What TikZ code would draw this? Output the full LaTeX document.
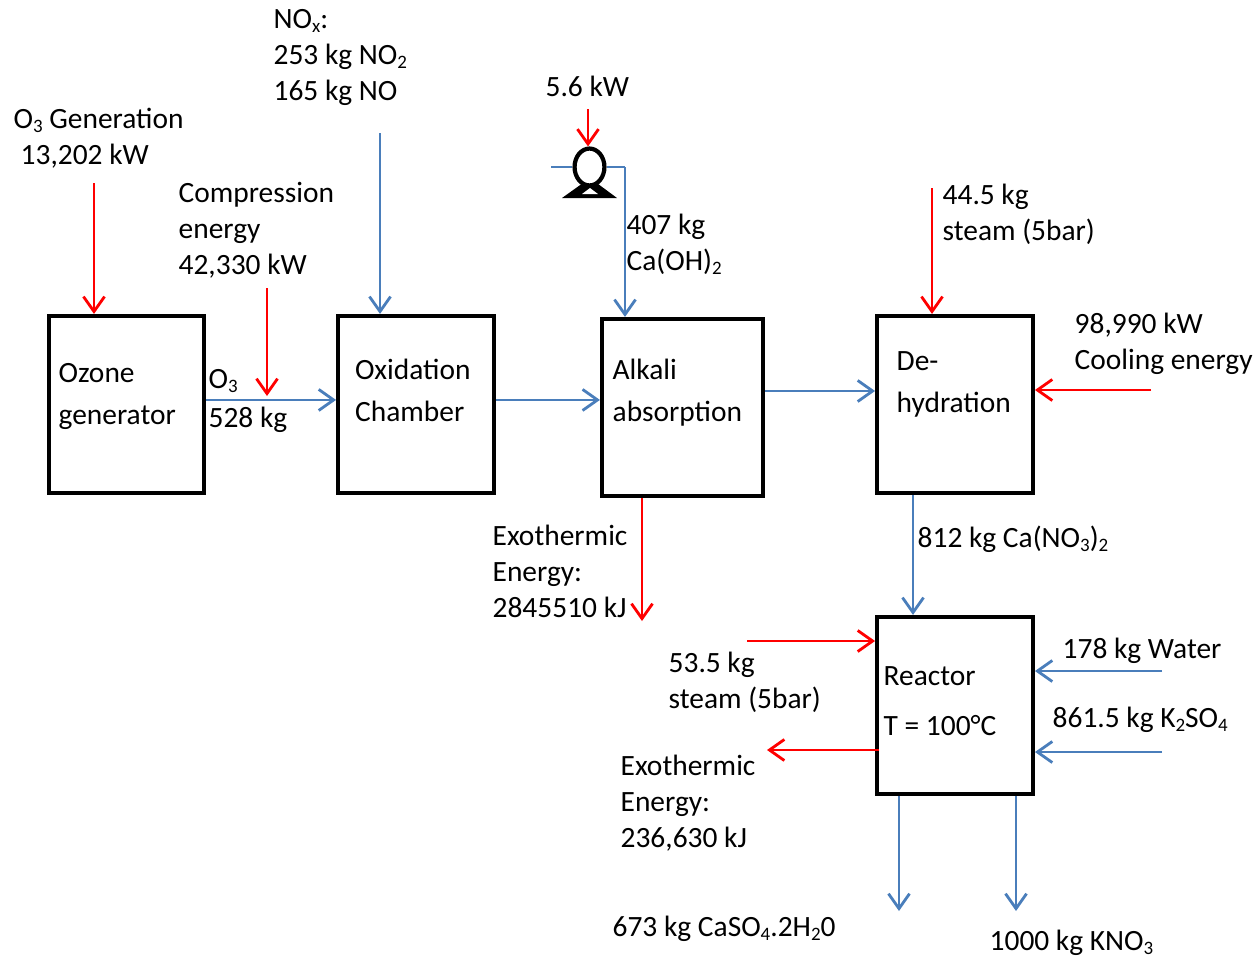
\documentclass[tikz,border=0pt]{standalone}
\usepackage{fontspec}
\setmainfont{Carlito}
\usetikzlibrary{arrows.meta,shapes.geometric}
\newcommand{\sub}[1]{\raisebox{-2.3pt}{\fontsize{10.8}{10}\selectfont #1}}
\definecolor{flowblue}{RGB}{74,126,187}
\tikzset{
    procbox/.style={draw, line width=2.5pt, minimum width=88.5pt, minimum height=100.6pt, inner sep=0pt},
    lbl/.style={anchor=north west, inner sep=0pt, align=left, yshift=-5.1pt, xshift=-0.4pt, font=\fontsize{16.75}{20.4}\selectfont},
    blueflow/.style={draw=flowblue, line width=1.6pt, -{Straight Barb[length=8.5pt, width=12pt, line width=1.6pt]}},
    redflow/.style={draw=red, line width=1.6pt, -{Straight Barb[length=8.5pt, width=12pt, line width=1.6pt]}},
}
\begin{document}
\begin{tikzpicture}[x=0.02cm, y=-0.02cm]
        \useasboundingbox (0,0) rectangle (1257,958);

        \node[procbox] (ozone) at (126.5,404.5) {};
        \node[procbox] (oxid) at (416,404.5) {};
        \node[procbox, minimum width=91.5pt] (alkali) at (682.5,407.5) {};
        \node[procbox] (dehyd) at (955,404.5) {};
        \node[procbox] (reactor) at (955,705.5) {};

        \node[lbl] (ozonetxt) at (59,354) {Ozone\\[3.6pt]generator};
        \node[lbl] (oxidtxt) at (355.5,349.5) {Oxidation\\[3.4pt]Chamber};
        \node[lbl] (alkalitxt) at (613,349.5) {Alkali\\[3.4pt]absorption};
        \node[lbl] (dehydtxt) at (897,342) {De-\\[3.4pt]hydration};
        \node[lbl] (reactortxt) at (884,657) {Reactor\\[8.4pt]T = 100°C};

        \node[lbl] (o3gentxt) at (14,99) {O\sub{3} Generation\\\hspace*{4pt}13,202 kW};
        \node[lbl] (noxtxt) at (274,0) {NO\sub{x}:\\253 kg NO\sub{2}\\165 kg NO};
        \node[lbl] (comptxt) at (179,173) {Compression\\energy\\42,330 kW};
        \node[lbl] (o3txt) at (209,360) {O\sub{3}};
        \node[lbl] (o3masstxt) at (209,398) {528 kg};
        \node[lbl] (pumptxt) at (546,67) {5.6 kW};
        \node[lbl] (limetxt) at (627,205) {407 kg\\Ca(OH)\sub{2}};
        \node[lbl] (steamatxt) at (943,175) {44.5 kg\\steam (5bar)};
        \node[lbl] (cooltxt) at (1075,304) {98,990 kW\\Cooling energy};
        \node[lbl] (exoatxt) at (493,516) {Exothermic\\Energy:\\2845510 kJ};
        \node[lbl] (nitratetxt) at (918,517) {812 kg Ca(NO\sub{3})\sub{2}};
        \node[lbl] (steambtxt) at (669,643) {53.5 kg\\steam (5bar)};
        \node[lbl] (watertxt) at (1063,629) {178 kg Water};
        \node[lbl] (sulfatetxt) at (1053,698) {861.5 kg K\sub{2}SO\sub{4}};
        \node[lbl] (exobtxt) at (621,746) {Exothermic\\Energy:\\236,630 kJ};
        \node[lbl] (gypsumtxt) at (613,907) {673 kg CaSO\sub{4}.2H\sub{2}0};
        \node[lbl] (kno3txt) at (990,921) {1000 kg KNO\sub{3}};

        % pump
        \fill (562,198) -- (590,178) -- (617,198) -- cycle;
        \fill[white] (582,194) -- (590,188) -- (598,194) -- cycle;
        \node[draw, fill=white, line width=2.4pt, ellipse, minimum width=17pt, minimum height=21pt, inner sep=0pt] (pump) at (589.5,167) {};
        \coordinate (pumpin) at (551,167);
        \coordinate (pumpout) at (625,167);
        \draw[flowblue, line width=1.2pt] (pumpin) -- (pump.west);
        \draw[flowblue, line width=1.2pt] (pump.east) -- (pumpout);
        \coordinate (pumpkw) at (588,109);
        \draw[redflow] (pumpkw) -- (pump.north -| pumpkw);

        \coordinate (o3gen) at (94,183);
        \coordinate (comp) at (267,288);
        \coordinate (nox) at (380,133);
        \coordinate (steama) at (932,188);
        \coordinate (cool) at (1151,390);
        \coordinate (exoa) at (642,621);
        \coordinate (steamb) at (747,641);
        \coordinate (exob) at (767,750);
        \coordinate (water) at (1162,671);
        \coordinate (sulfate) at (1162,752);
        \coordinate (gypsum) at (899,911);
        \coordinate (kno3) at (1016,911);
        \coordinate (o3mid) at (267,396);
        \coordinate (nitrate) at (913,560);

        \draw[redflow] (o3gen) -- (ozone.north -| o3gen);
        \draw[redflow] (comp) -- (o3mid);
        \draw[blueflow] (nox) -- (oxid.north -| nox);
        \draw[blueflow] (pumpout) -- (alkali.north -| pumpout);
        \draw[redflow] (steama) -- (dehyd.north -| steama);
        \draw[redflow] (cool) -- (cool -| dehyd.east);
        \draw[redflow] (alkali.south -| exoa) -- (exoa);
        \draw[redflow] (steamb) -- (steamb -| reactor.west);
        \draw[redflow] ([xshift=2.5pt]exob -| reactor.west) -- (exob);
        \draw[blueflow] (water) -- (water -| reactor.east);
        \draw[blueflow] (sulfate) -- (sulfate -| reactor.east);
        \draw[blueflow] (reactor.south -| gypsum) -- (gypsum);
        \draw[blueflow] (reactor.south -| kno3) -- (kno3);

        \draw[blueflow] ([yshift=2.6pt]ozone.east) -- ([yshift=2.6pt]oxid.west);
        \draw[blueflow] ([yshift=2.6pt]oxid.east) -- ([yshift=2.6pt]oxid.east -| alkali.west);
        \draw[blueflow] ([yshift=9.4pt]alkali.east) -- ([yshift=9.4pt]alkali.east -| dehyd.west);
        \draw[blueflow] (dehyd.south -| nitrate) -- (reactor.north -| nitrate);
    \end{tikzpicture}
\end{document}
